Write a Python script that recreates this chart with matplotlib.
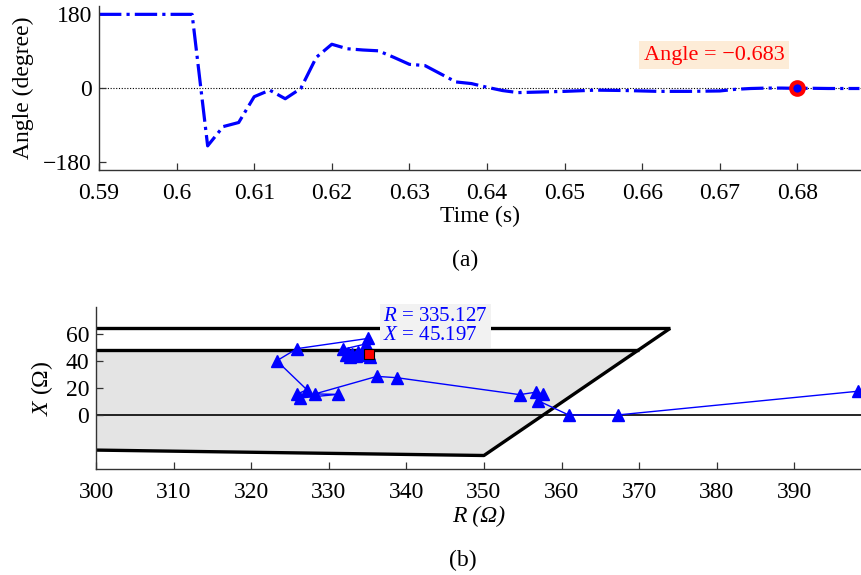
import matplotlib.pyplot as plt
import numpy as np

plt.rcParams['font.family'] = ['Liberation Serif', 'DejaVu Serif']
plt.rcParams['mathtext.fontset'] = 'custom'
plt.rcParams['mathtext.rm'] = 'Liberation Serif'
plt.rcParams['mathtext.it'] = 'Liberation Serif:italic'

# (a) angle vs time
time = [0.590, 0.602, 0.604, 0.606, 0.608, 0.610, 0.612, 0.614, 0.616, 0.618,
        0.620, 0.622, 0.624, 0.626, 0.628, 0.630, 0.632, 0.634, 0.636, 0.638,
        0.640, 0.642, 0.644, 0.646, 0.650, 0.654, 0.658, 0.662, 0.666, 0.670,
        0.672, 0.674, 0.676, 0.678, 0.680, 0.682, 0.684, 0.686, 0.688]
angle = [180, 180, -141, -94, -84, -21, -5, -26, -1, 75,
         107, 96, 93, 91, 75, 58, 55, 35, 15, 11,
         2, -6, -11, -10, -8, -5, -6, -8, -8, -7,
         -3, -1, 0, 0, -0.683, -0.5, -1, -1, -1]
t_mark = 0.68
angle_mark = -0.683
time_ticks = [0.59, 0.60, 0.61, 0.62, 0.63, 0.64, 0.65, 0.66, 0.67, 0.68]
time_labels = ['0.59', '0.6', '0.61', '0.62', '0.63', '0.64', '0.65', '0.66', '0.67', '0.68']
angle_ticks = [-180, 0, 180]

# (b) impedance trajectory in R-X plane
traj_r = [398.2, 367.3, 360.9, 357.0, 357.6, 356.7, 354.6, 338.8, 336.2, 328.2,
          331.2, 326.3, 325.9, 327.2, 323.3, 325.9, 335.0, 334.8, 331.8, 332.2,
          332.8, 333.5, 332.5, 333.0, 334.0, 333.8, 334.8, 335.3, 334.6, 335.127]
traj_x = [17.5, 0.0, 0.0, 10.5, 15.5, 16.8, 15.0, 27.5, 28.5, 15.5,
          15.2, 12.5, 15.5, 18.5, 40.0, 49.0, 56.5, 52.5, 48.5, 44.0,
          42.5, 43.5, 46.0, 45.0, 44.5, 46.5, 47.5, 43.0, 45.5, 45.197]
r_mark = 335.127
x_mark = 45.197

zone_r = [300, 370, 350, 300]
zone_x = [48, 48, -30, -26]
top_line_r = [300, 374]
top_line_x = [64, 64]
mid_line_r = [300, 370]
mid_line_x = [48, 48]
edge_r = [300, 350, 374]
edge_x = [-26, -30, 64]
r_ticks = [300, 310, 320, 330, 340, 350, 360, 370, 380, 390]
x_ticks = [0, 20, 40, 60]

fig = plt.figure(figsize=(8.61, 5.75), dpi=100)

spine_c = '#333333'

def style(ax):
    for s in ['top', 'right']:
        ax.spines[s].set_visible(False)
    for s in ['left', 'bottom']:
        ax.spines[s].set_color(spine_c)
        ax.spines[s].set_linewidth(1.0)
    ax.tick_params(direction='in', length=5, width=0.9, color=spine_c,
                   labelsize=17, pad=5)
    ax.tick_params(axis='x', pad=9.5)

# --- top panel ---
ax1 = fig.add_axes([0.115, 0.7043, 0.885, 0.285])
style(ax1)
ax1.axhline(0, color='black', lw=0.8, ls=(0, (1, 1.5)), zorder=1)
ax1.plot(time, angle, color='#0000ff', lw=2.3, ls=(0, (7, 1.6, 1, 1.6)), zorder=2)
ax1.plot([t_mark], [angle_mark], 'o', ms=9, mfc='#0000ff', mec='#ff0000', mew=3, zorder=3)
ax1.text(0.66925, 80, 'Angle = \u22120.683', color='#ff0000', fontsize=16,
         ha='center', va='center',
         bbox=dict(boxstyle='square,pad=0.2', fc='#fdecd7', ec='none'))
ax1.set_xlim(0.59, 0.6882)
ax1.set_ylim(-200, 200)
ax1.set_xticks(time_ticks)
ax1.set_xticklabels(time_labels)
ax1.set_yticks(angle_ticks)
ax1.set_xlabel('Time (s)', fontsize=17, labelpad=1)
ax1.set_ylabel('Angle (degree)', fontsize=17)
ax1.yaxis.set_label_coords(-0.085, 0.5)

# --- bottom panel ---
ax2 = fig.add_axes([0.1115, 0.1843, 0.8885, 0.2823])
style(ax2)
ax2.fill(zone_r, zone_x, color='#e4e4e4', lw=0, zorder=0)
ax2.axhline(0, color='black', lw=1.2, zorder=1)
ax2.plot(top_line_r, top_line_x, color='black', lw=2.4, zorder=1, solid_capstyle='butt')
ax2.plot(mid_line_r, mid_line_x, color='black', lw=2.4, zorder=1, solid_capstyle='butt')
ax2.plot(edge_r, edge_x, color='black', lw=2.4, zorder=1, solid_capstyle='butt')
ax2.plot(traj_r, traj_x, '-^', color='#0000ff', lw=1.0, ms=9, zorder=2, clip_on=False)
ax2.plot([r_mark], [x_mark], 's', ms=6.5, mfc='#ff0000', mec='black', mew=0.8, zorder=3)
ax2.text(337.0, 65.5, '$R$ = 335.127\n$X$ = 45.197', color='#0000ff', fontsize=15,
         ha='left', va='center', linespacing=1.0, zorder=4, clip_on=False,
         bbox=dict(boxstyle='square,pad=0.15', fc='#f2f2f2', ec='none'))
ax2.set_xlim(300, 398.6)
ax2.set_ylim(-40, 80)
ax2.set_xticks(r_ticks)
ax2.set_yticks(x_ticks)
ax2.set_xlabel('R (\u03a9)', fontsize=17, fontstyle='italic', labelpad=2)
ax2.set_ylabel('$X$ (\u03a9)', fontsize=17)
ax2.yaxis.set_label_coords(-0.054, 0.5)

fig.text(0.54, 1 - 260 / 575, '(a)', fontsize=17, ha='center', va='center')
fig.text(0.537, 1 - 560 / 575, '(b)', fontsize=17, ha='center', va='center')

fig.savefig('out.png', dpi=100)
